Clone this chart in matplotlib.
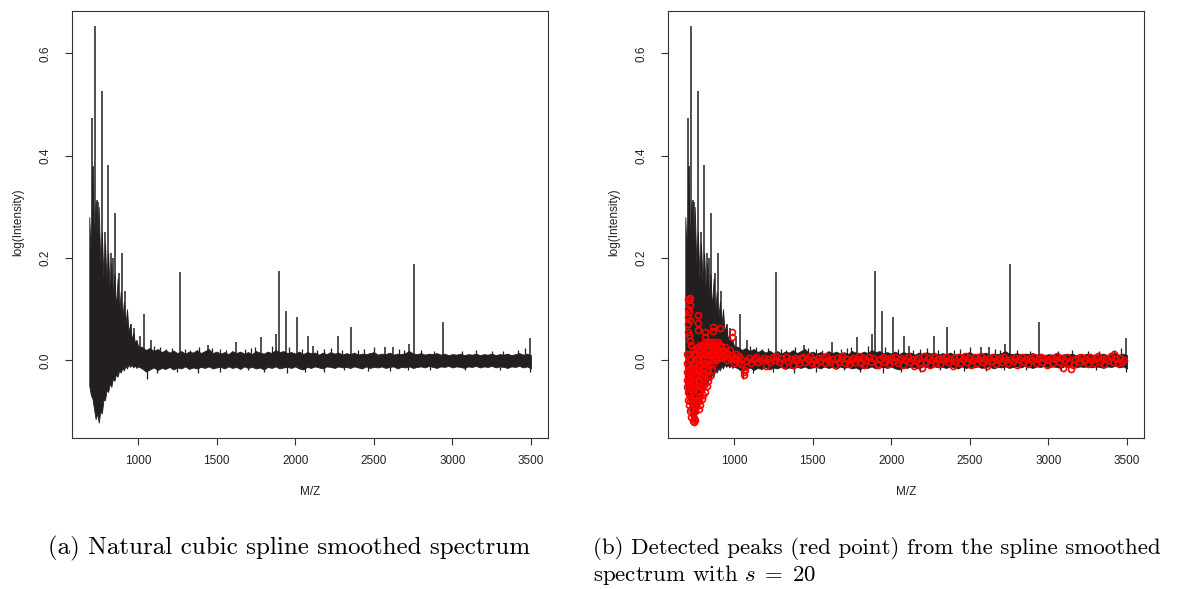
import matplotlib
matplotlib.use("Agg")
import matplotlib.pyplot as plt

# smoothed spectrum: noise band (upper / lower edge)
band_mz = [690, 700, 710, 720, 730, 740, 750, 760, 770, 780, 790, 800, 810, 820, 830, 840,
           850, 860, 870, 880, 890, 900, 910, 920, 930, 940, 950, 960, 970, 980, 990, 1000,
           1025, 1050, 1075, 1100, 1125, 1150, 1175, 1200, 1225, 1250, 1275, 1300, 1325, 1350,
           1375, 1400, 1425, 1450, 1475, 1500, 1525, 1550, 1575, 1600, 1625, 1650, 1675, 1700,
           1725, 1750, 1775, 1800, 1825, 1850, 1875, 1900, 1925, 1950, 1975, 2000, 2025, 2050,
           2075, 2100, 2125, 2150, 2175, 2200, 2225, 2250, 2275, 2300, 2325, 2350, 2375, 2400,
           2425, 2450, 2475, 2500, 2525, 2550, 2575, 2600, 2625, 2650, 2675, 2700, 2725, 2750,
           2775, 2800, 2825, 2850, 2875, 2900, 2925, 2950, 2975, 3000, 3025, 3050, 3075, 3100,
           3125, 3150, 3175, 3200, 3225, 3250, 3275, 3300, 3325, 3350, 3375, 3400, 3425, 3450,
           3475, 3500]
band_hi = [0.28, 0.20, 0.38, 0.22, 0.31, 0.20, 0.30, 0.19, 0.25, 0.16, 0.23, 0.15, 0.21, 0.13,
           0.19, 0.12, 0.17, 0.10, 0.16, 0.09, 0.135, 0.08, 0.115, 0.07, 0.10, 0.055, 0.07, 0.04,
           0.055, 0.035, 0.04, 0.028,
           0.026, 0.020, 0.024, 0.018, 0.022, 0.016, 0.020, 0.015, 0.019, 0.014, 0.018, 0.013,
           0.017, 0.015, 0.020, 0.014, 0.018, 0.022, 0.014, 0.017, 0.013, 0.016, 0.012, 0.018,
           0.014, 0.017, 0.013, 0.016, 0.012, 0.018, 0.015, 0.013, 0.017, 0.014, 0.020, 0.016,
           0.018, 0.014, 0.016, 0.013, 0.017, 0.012, 0.016, 0.014, 0.015, 0.011, 0.015, 0.012,
           0.016, 0.013, 0.015, 0.011, 0.014, 0.012, 0.015, 0.011, 0.013, 0.012, 0.014, 0.016,
           0.011, 0.013, 0.012, 0.015, 0.011, 0.013, 0.012, 0.014, 0.018, 0.013, 0.012, 0.014,
           0.011, 0.013, 0.012, 0.014, 0.011, 0.013, 0.010, 0.012, 0.011, 0.013, 0.010, 0.012,
           0.011, 0.013, 0.010, 0.012, 0.011, 0.013, 0.010, 0.012, 0.011, 0.013, 0.010, 0.012,
           0.014, 0.011, 0.013, 0.010]
band_lo = [-0.05, -0.068, -0.075, -0.095, -0.115, -0.104, -0.122, -0.10, -0.104, -0.078,
           -0.078, -0.058, -0.062, -0.045, -0.052, -0.036, -0.04, -0.027, -0.032, -0.02,
           -0.024, -0.015, -0.02, -0.011, -0.016, -0.008, -0.013, -0.009, -0.014, -0.01,
           -0.015, -0.012,
           -0.016, -0.022, -0.018, -0.014, -0.019, -0.015, -0.017, -0.013, -0.018, -0.014,
           -0.016, -0.012, -0.017, -0.014, -0.016, -0.013, -0.015, -0.012, -0.016, -0.014,
           -0.013, -0.016, -0.012, -0.015, -0.013, -0.017, -0.012, -0.015, -0.013, -0.016,
           -0.014, -0.018, -0.013, -0.015, -0.012, -0.016, -0.014, -0.013, -0.015, -0.012,
           -0.016, -0.018, -0.013, -0.015, -0.012, -0.014, -0.016, -0.012, -0.013, -0.015,
           -0.012, -0.014, -0.013, -0.015, -0.012, -0.014, -0.016, -0.012, -0.015, -0.013,
           -0.014, -0.012, -0.015, -0.013, -0.012, -0.016, -0.013, -0.014, -0.012, -0.015,
           -0.013, -0.012, -0.014, -0.011, -0.013, -0.015, -0.012, -0.013, -0.011, -0.014,
           -0.012, -0.013, -0.015, -0.012, -0.013, -0.011, -0.014, -0.012, -0.013, -0.011,
           -0.014, -0.012, -0.013, -0.015, -0.012, -0.013, -0.011, -0.014, -0.012, -0.016]

# isolated peaks rising above the band, and dips below it
spike_mz = [708, 716, 725, 740, 748, 769, 790, 811, 830, 843, 854, 877, 900, 920, 953, 975,
            1013, 1038, 1080, 1265, 1443, 1623, 1782, 1875, 1894, 1939, 2009, 2079, 2115,
            2269, 2356, 2570, 2625, 2723, 2753, 2937, 3496]
spike_top = [0.474, 0.38, 0.654, 0.314, 0.31, 0.526, 0.25, 0.382, 0.21, 0.2, 0.288, 0.17,
             0.21, 0.135, 0.07, 0.063, 0.047, 0.09, 0.04, 0.172, 0.03, 0.036, 0.046, 0.052,
             0.174, 0.097, 0.085, 0.047, 0.028, 0.047, 0.066, 0.026, 0.026, 0.031, 0.188,
             0.075, 0.044]
small_mz = [1100, 1140, 1180, 1215, 1300, 1330, 1390, 1470, 1520, 1560, 1680, 1720, 1745,
            1850, 1960, 2040, 2140, 2180, 2230, 2300, 2400, 2440, 2500, 2660, 2690, 2800,
            2880, 3060, 3150, 3250, 3320, 3420, 3460]
small_top = [0.028, 0.025, 0.022, 0.024, 0.022, 0.02, 0.025, 0.024, 0.022, 0.02, 0.022,
             0.024, 0.026, 0.028, 0.025, 0.022, 0.02, 0.022, 0.024, 0.021, 0.02, 0.022,
             0.025, 0.022, 0.02, 0.02, 0.018, 0.018, 0.02, 0.019, 0.018, 0.02, 0.024]
dip_mz = [1057, 1120, 1250, 1380, 1520, 1700, 1800, 1950, 2060, 2180, 2310, 2464, 2600,
          2720, 2860, 3080, 3300, 3496]
dip_low = [-0.036, -0.025, -0.022, -0.024, -0.022, -0.02, -0.023, -0.025, -0.022, -0.022,
           -0.02, -0.021, -0.021, -0.02, -0.02, -0.02, -0.019, -0.023]

# detected peaks (red points), panel (b)
peak_mz = [700, 700, 700, 700, 700,
           705, 705, 705, 705, 705, 705, 705, 705, 705, 705,
           712, 712, 712, 712, 712, 712, 712, 712,
           720, 720, 720, 720, 720, 720, 720, 720, 720, 720,
           728, 728, 728, 728, 728, 728, 728,
           736, 736, 736, 736, 736, 736, 736,
           744, 744, 744, 744, 744, 744, 744,
           752, 752, 752, 752, 752, 752, 752,
           760, 760, 760, 760, 760, 760,
           768, 768, 768, 768, 768, 768, 768, 768, 768,
           776, 776, 776, 776, 776, 776, 776,
           785, 785, 785, 785, 785, 785, 785,
           795, 795, 795, 795, 795, 795,
           805, 805, 805, 805, 805, 805,
           815, 815, 815, 815, 815, 815, 815, 815,
           825, 825, 825, 825, 825,
           835, 835, 835, 835, 835,
           845, 845, 845, 845,
           857, 857, 857, 857,
           867, 867, 867, 867, 867,
           877, 877, 877, 888, 888, 888, 898, 898, 898, 909, 909, 909,
           920, 920, 932, 932, 945, 945, 958, 958, 972, 972, 985, 985, 985,
           998, 998, 1012, 1012, 1030, 1030, 1045, 1045, 1062, 1062, 1070,
           1080, 1095, 1110, 1128, 1140, 1155, 1170, 1190, 1205, 1215, 1230, 1248, 1262,
           1270, 1285, 1300, 1318, 1330, 1345, 1360, 1372, 1385, 1398, 1412, 1425, 1440,
           1452, 1468, 1483, 1495, 1510, 1522, 1535, 1550, 1565, 1578, 1585, 1598, 1612,
           1625, 1640, 1652, 1665, 1678, 1690, 1705, 1718, 1730, 1742, 1755, 1768, 1780,
           1792, 1805, 1818, 1830, 1842, 1856, 1870, 1885, 1914, 1918, 1930, 1945, 1958,
           1970, 1985, 1998, 2012, 2025, 2040, 2052, 2065, 2078, 2090, 2105, 2118, 2130,
           2143, 2155, 2168, 2180, 2194, 2208, 2220, 2232, 2246, 2258, 2270, 2285, 2298,
           2310, 2322, 2336, 2350, 2362, 2375, 2390, 2402, 2415, 2428, 2440, 2455, 2468,
           2480, 2495, 2508, 2520, 2534, 2548, 2560, 2573, 2586, 2598, 2612, 2625, 2638,
           2650, 2665, 2678, 2690, 2705, 2718, 2732, 2745, 2760, 2775, 2790, 2802, 2815,
           2830, 2842, 2855, 2870, 2882, 2895, 2908, 2920, 2935, 2950, 2962, 2975, 2988,
           3000, 3015, 3028, 3040, 3055, 3068, 3080, 3092, 3105, 3118, 3130, 3144, 3158,
           3170, 3185, 3198, 3210, 3225, 3238, 3250, 3262, 3275, 3288, 3300, 3315, 3328,
           3340, 3355, 3368, 3380, 3395, 3408, 3420, 3432, 3445, 3458, 3470, 3482]
peak_int = [0.013, -0.005, -0.022, -0.038, -0.052,
            0.12, 0.10, 0.085, 0.07, 0.055, -0.012, -0.03, -0.047, -0.062, -0.078,
            0.118, 0.095, 0.05, 0.002, -0.02, -0.042, -0.066, -0.088,
            0.122, 0.108, 0.078, 0.038, 0.012, -0.015, -0.036, -0.056, -0.08, -0.10,
            0.03, 0.0, -0.026, -0.05, -0.074, -0.095, -0.11,
            0.02, -0.01, -0.032, -0.06, -0.085, -0.105, -0.118,
            0.01, -0.016, -0.04, -0.068, -0.09, -0.112, -0.121,
            0.015, -0.006, -0.03, -0.055, -0.08, -0.10, -0.117,
            0.022, 0.0, -0.025, -0.046, -0.07, -0.09,
            0.088, 0.073, 0.06, 0.025, 0.004, -0.02, -0.04, -0.06, -0.08,
            0.02, 0.0, -0.02, -0.04, -0.06, -0.08, -0.095,
            0.03, 0.01, -0.01, -0.03, -0.05, -0.07, -0.088,
            0.025, 0.005, -0.015, -0.035, -0.055, -0.075,
            0.03, 0.012, -0.008, -0.028, -0.048, -0.068,
            0.055, 0.046, 0.035, 0.015, -0.005, -0.025, -0.045, -0.063,
            0.03, 0.01, -0.01, -0.03, -0.05,
            0.035, 0.018, 0.0, -0.02, -0.04,
            0.03, 0.012, -0.008, -0.03,
            0.035, 0.018, 0.0, -0.02,
            0.065, 0.057, 0.03, 0.012, -0.008,
            0.035, 0.02, 0.005, 0.03, 0.015, 0.0, 0.036, 0.02, 0.004, 0.064, 0.03, 0.012,
            0.025, 0.005, 0.02, 0.008, 0.025, 0.008, 0.015, 0.0, 0.02, 0.005, 0.055, 0.046, 0.01,
            0.005, -0.005, 0.012, 0.0, 0.008, -0.004, 0.003, -0.008, -0.022, -0.028, -0.02,
            -0.002, 0.004, -0.006, 0.002, 0.007, -0.004, 0.001, 0.005, -0.012, 0.003, -0.003,
            0.006, 0.0, 0.008, -0.004, 0.004, -0.01, 0.006, -0.002, 0.003, -0.009, 0.005, 0.0,
            -0.006, 0.004, 0.007, -0.003, 0.002, 0.009, -0.005, 0.001, -0.008, 0.004, -0.002,
            0.006, -0.006, 0.008, 0.0, -0.004, 0.003, -0.01, 0.005, -0.003, 0.002, 0.008,
            -0.005, 0.003, -0.008, 0.0, 0.005, -0.004, 0.002, 0.008, -0.006, 0.004, -0.01,
            0.0, 0.006, -0.003, 0.004, -0.01, -0.008, 0.002, 0.006, -0.004, 0.003, -0.008,
            0.005, -0.002, 0.007, -0.006, 0.001, 0.004, -0.009, 0.002, 0.006, -0.004, 0.003,
            -0.012, 0.0, 0.005, -0.006, -0.016, 0.008, -0.003, 0.004, -0.01, 0.001, 0.006,
            -0.005, 0.003, -0.008, 0.005, 0.0, 0.007, -0.004, 0.002, -0.012, 0.004, -0.002,
            0.006, -0.006, 0.002, 0.008, -0.003, 0.004, -0.009, 0.001, 0.006, -0.005, 0.003,
            0.009, -0.004, 0.002, -0.011, 0.005, -0.002, 0.006, -0.007, 0.001, 0.004, -0.004,
            0.007, 0.0, -0.006, 0.003, -0.002, 0.005, -0.009, 0.002, 0.006, -0.004, 0.003,
            -0.008, 0.004, 0.0, 0.007, -0.005, 0.002, 0.006, -0.003, 0.004, -0.01, 0.001,
            0.005, -0.006, 0.002, 0.008, -0.003, 0.004, -0.016, 0.0, 0.006, -0.005, -0.018,
            -0.009, 0.002, 0.005, -0.004, 0.007, -0.002, 0.003, -0.008, 0.006, 0.0, -0.005,
            0.004, 0.009, -0.003, 0.002, -0.007, 0.005, 0.0, 0.008, -0.004, 0.012, 0.002,
            -0.006, 0.004, -0.003, 0.001]

x_ticks = [1000, 1500, 2000, 2500, 3000, 3500]
y_ticks = [0.0, 0.2, 0.4, 0.6]
y_tick_labels = ["0.0", "0.2", "0.4", "0.6"]
captions = ["(a) Natural cubic spline smoothed spectrum",
            "(b) Detected peaks (red point) from the spline smoothed",
            r"spectrum with $s\;=\;20$"]

plt.rcParams["font.family"] = ["Liberation Sans", "DejaVu Sans"]
plt.rcParams["mathtext.fontset"] = "cm"

W, H = 1189, 589
fig = plt.figure(figsize=(W / 100, H / 100), dpi=100)
ink = "#231f20"


def spectrum(ax):
    ax.fill_between(band_mz, band_lo, band_hi, color=ink, lw=0.6, edgecolor=ink)
    ax.vlines(spike_mz, 0, spike_top, color=ink, lw=1.1)
    ax.vlines(small_mz, 0, small_top, color=ink, lw=0.9)
    ax.vlines(dip_mz, dip_low, 0, color=ink, lw=0.9)
    ax.set_xlim(580, 3608)
    ax.set_ylim(-0.152, 0.683)
    ax.set_xticks(x_ticks)
    ax.set_xticklabels([str(t) for t in x_ticks])
    ax.set_yticks(y_ticks)
    ax.set_yticklabels(y_tick_labels, rotation=90, va="center")
    ax.tick_params(axis="both", direction="out", length=5, width=0.8,
                   labelsize=8.5, color="#333333", labelcolor="#222222")
    ax.tick_params(axis="x", pad=7)
    ax.tick_params(axis="y", pad=10)
    for s in ax.spines.values():
        s.set_linewidth(0.8)
        s.set_color("#333333")


panels = [(72, "a"), (668, "b")]
axes = []
for left, tag in panels:
    ax = fig.add_axes([left / W, (H - 438) / H, 476 / W, 427 / H])
    spectrum(ax)
    axes.append(ax)
    fig.text((left + 238) / W, 1 - 492 / H, "M/Z", ha="center", va="center",
             fontsize=8.5, color="#222222")
    fig.text((left - 54) / W, 1 - 222 / H, "log(Intensity)", rotation=90,
             ha="center", va="center", fontsize=8.5, color="#222222")

axes[1].plot(peak_mz, peak_int, ls="none", marker="o", ms=4.3, mfc="none",
             mec="#ff0000", mew=1.2)

fig.text(48 / W, 1 - 548 / H, captions[0], ha="left", va="center",
         fontsize=18, family="cmr10")
fig.text(593 / W, 1 - 548 / H, captions[1], ha="left", va="center",
         fontsize=16.5, family="cmr10")
fig.text(593 / W, 1 - 575 / H, captions[2], ha="left", va="center",
         fontsize=16.5, family="cmr10")

fig.savefig("out.png", dpi=100)
